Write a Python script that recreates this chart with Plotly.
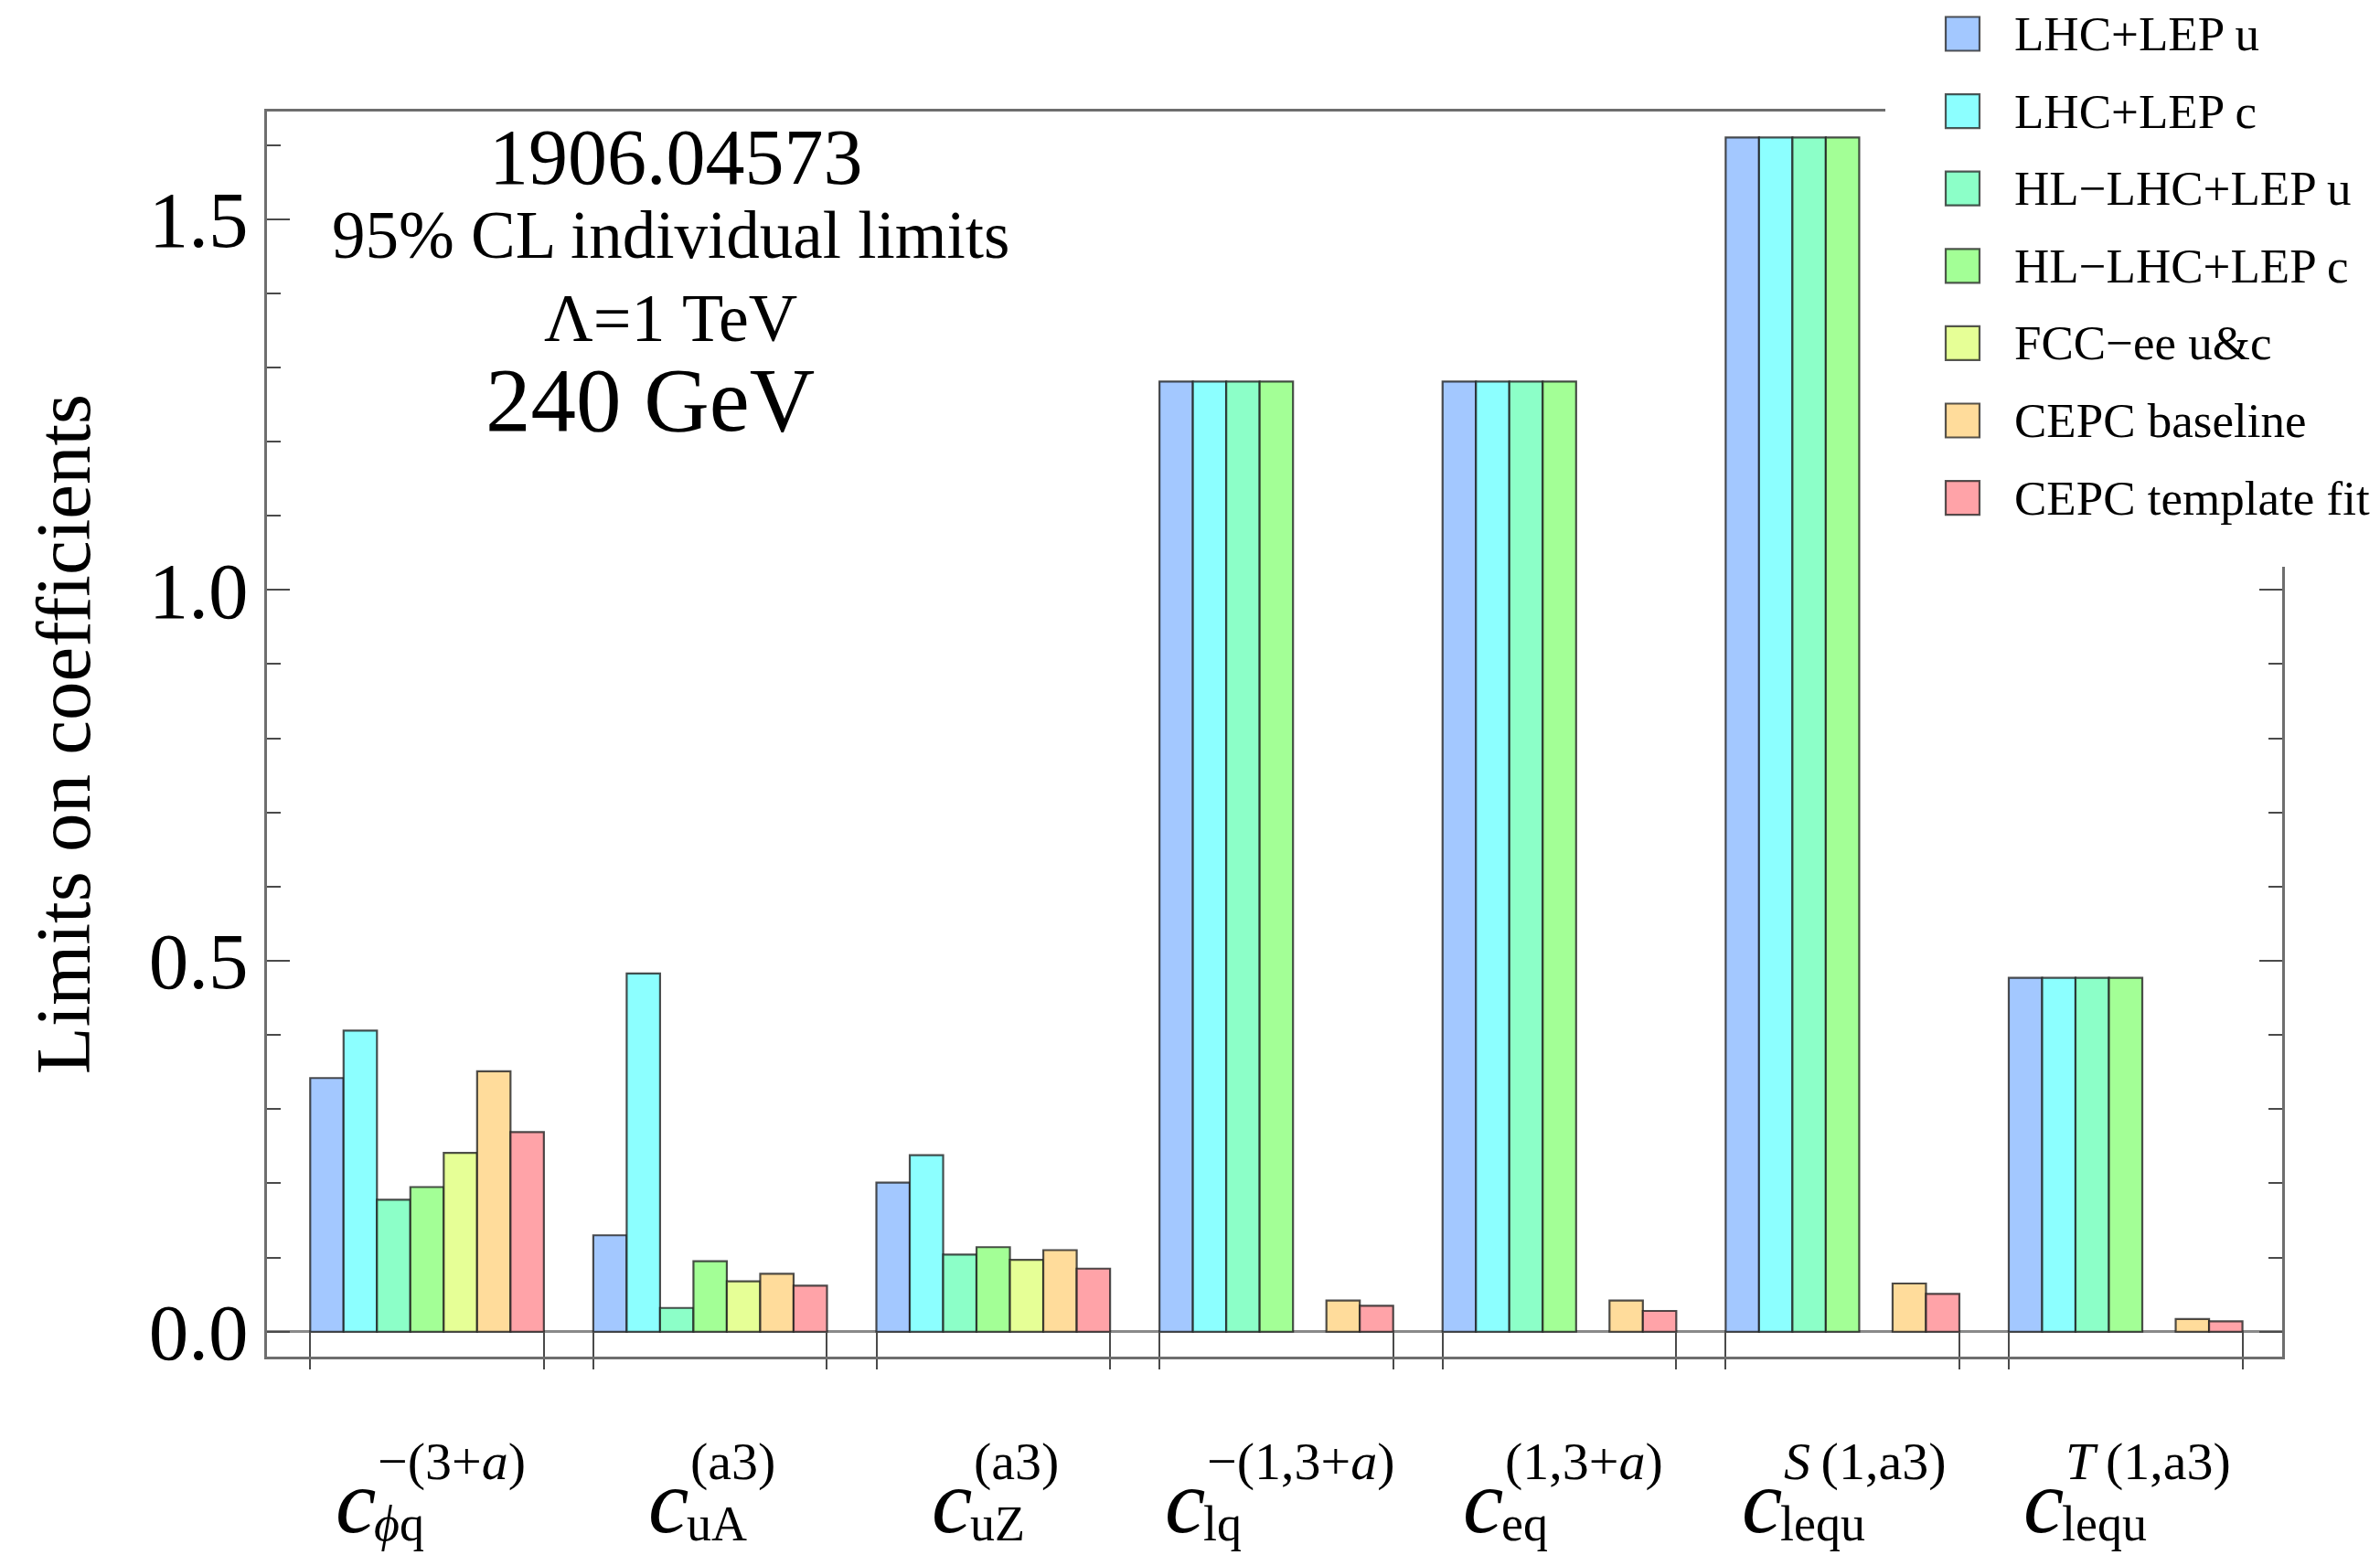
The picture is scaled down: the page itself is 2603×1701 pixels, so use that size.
import re
import plotly.graph_objects as go

# ---------------- data ----------------
categories = ["c_phi_q", "c_uA", "c_uZ", "c_lq", "c_eq", "c_lequ_S", "c_lequ_T"]
label_sup = ["\u2212(3+<i>a</i>)", "(a3)", "(a3)", "\u2212(1,3+<i>a</i>)",
             "(1,3+<i>a</i>)", "<i>S</i>\u2009(1,a3)", "<i>T</i>\u2009(1,a3)"]
label_sub = ["<i>\u03d5</i>q", "uA", "uZ", "lq", "eq", "lequ", "lequ"]

series_names = ["LHC+LEP u", "LHC+LEP c", "HL\u2212LHC+LEP u", "HL\u2212LHC+LEP c",
                "FCC\u2212ee u&c", "CEPC baseline", "CEPC template fit"]
lhc_lep_u = [0.342, 0.130, 0.201, 1.281, 1.281, 1.610, 0.477]
lhc_lep_c = [0.406, 0.483, 0.238, 1.281, 1.281, 1.610, 0.477]
hl_lhc_lep_u = [0.178, 0.032, 0.104, 1.281, 1.281, 1.610, 0.477]
hl_lhc_lep_c = [0.195, 0.095, 0.114, 1.281, 1.281, 1.610, 0.477]
fcc_ee = [0.241, 0.068, 0.097, None, None, None, None]
cepc_baseline = [0.351, 0.078, 0.110, 0.042, 0.042, 0.065, 0.017]
cepc_template = [0.269, 0.062, 0.085, 0.035, 0.028, 0.051, 0.014]
series_values = [lhc_lep_u, lhc_lep_c, hl_lhc_lep_u, hl_lhc_lep_c,
                 fcc_ee, cepc_baseline, cepc_template]

colors = ["#A3C8FF", "#8CFFFF", "#8CFFC8", "#A3FF96", "#E6FF96", "#FFDC9B", "#FFA3A8"]
y_ticks = [0.0, 0.5, 1.0, 1.5]

# ---------------- layout geometry ----------------
W, H = 2603, 1701
L, R, T, B = 292, 2496, 122, 1484     # plot area in pixels
PW, PH = R - L, B - T
FONT = "Liberation Serif, Times New Roman, serif"
LINE = "#6e6e6e"
TICK = "#4a4a4a"

bargap = 0.1745
half_group = (1 - bargap) / 2
x_pos = list(range(len(categories)))


def px_x(px):
    return (px - L) / PW


def px_y(py):
    return (B - py) / PH


EM = {"\u2212": .564, "(": .333, ")": .333, "+": .564, ",": .25, "1": .5, "3": .5,
      "a": .5, "S": .556, "T": .611, "u": .5, "A": .722, "Z": .611, "l": .278,
      "q": .5, "e": .444, "\u03d5": .5, "\u2009": .17}


def text_width(s, size):
    s = re.sub(r"<[^>]+>", "", s)
    return sum(EM.get(ch, .5) for ch in s) * size


fig = go.Figure()
for name, vals, col in zip(series_names, series_values, colors):
    fig.add_trace(go.Bar(
        x=x_pos, y=vals, name=name, showlegend=False,
        marker=dict(color=col, line=dict(color="rgba(30,30,30,0.78)", width=2.2)),
    ))

edges = []
for i in x_pos:
    edges += [i - half_group, i + half_group]

# invisible trace to keep the inner tick axis alive
fig.add_trace(go.Scatter(x=[x_pos[0]], y=[0], xaxis="x2", mode="markers",
                         marker=dict(opacity=0), showlegend=False, hoverinfo="skip"))

xrange = [-0.5654, 6.553]
yrange = [-0.0336, 1.645]

fig.update_layout(
    width=W, height=H,
    margin=dict(l=L, r=W - R, t=T, b=H - B, autoexpand=False),
    paper_bgcolor="white", plot_bgcolor="white",
    barmode="group", bargap=bargap, bargroupgap=0,
    font=dict(family=FONT, color="black"),
    xaxis=dict(range=xrange, tickmode="array", tickvals=edges, ticks="outside",
               ticklen=11, tickwidth=2, tickcolor=TICK, showticklabels=False,
               showline=True, linecolor=LINE, linewidth=3, mirror=True,
               showgrid=False, zeroline=False),
    xaxis2=dict(range=xrange, overlaying="x", side="bottom", anchor="y",
                tickmode="array", tickvals=edges, ticks="inside", ticklen=27,
                tickwidth=2, tickcolor=TICK, showticklabels=False, showline=False,
                showgrid=False, zeroline=False),
    yaxis=dict(range=yrange, tickmode="array", tickvals=y_ticks, tickformat=".1f",
               ticks="inside", ticklen=25, tickwidth=2, tickcolor=TICK,
               minor=dict(dtick=0.1, tick0=0, ticks="inside", ticklen=15,
                          tickwidth=2, tickcolor=TICK, showgrid=False),
               showline=True, linecolor=LINE, linewidth=3, mirror="ticks",
               showgrid=False, zeroline=True, zerolinecolor="#8a8a8a",
               zerolinewidth=3, tickfont=dict(size=87, family=FONT),
               ticklabelstandoff=0,
               title=dict(text="Limits on coefficients", standoff=37,
                          font=dict(size=85, family=FONT))),
)

annotations = []
# text block in upper left
for txt, cx, cy, size in [("1906.04573", 739, 172, 86),
                          ("95% CL individual limits", 733, 257, 73),
                          ("\u039b=1 TeV", 733, 348, 74),
                          ("240 GeV", 711, 437, 99)]:
    annotations.append(dict(text=txt, x=px_x(cx), y=px_y(cy), xref="paper", yref="paper",
                            xanchor="center", yanchor="middle", showarrow=False,
                            font=dict(size=size, family=FONT, color="black")))

# category labels: c with stacked super/subscripts
C_SIZE, SUP_SIZE, SUB_SIZE, C_W = 100, 58, 54, 50
for i, (sup, sub) in enumerate(zip(label_sup, label_sub)):
    mw = max(text_width(sup, SUP_SIZE), text_width(sub, SUB_SIZE))
    j = (C_W - mw) / 2
    annotations.append(dict(text="<i>c</i>", x=x_pos[i], xref="x", y=px_y(1700), yref="paper",
                            xanchor="right", yanchor="bottom", xshift=j + 2, showarrow=False,
                            font=dict(size=C_SIZE, family=FONT, color="black")))
    annotations.append(dict(text=sup, x=x_pos[i], xref="x", y=px_y(1598), yref="paper",
                            xanchor="left", yanchor="middle", xshift=j, showarrow=False,
                            font=dict(size=SUP_SIZE, family=FONT, color="black")))
    annotations.append(dict(text=sub, x=x_pos[i], xref="x", y=px_y(1667), yref="paper",
                            xanchor="left", yanchor="middle", xshift=j - 4, showarrow=False,
                            font=dict(size=SUB_SIZE, family=FONT, color="black")))

# legend (drawn manually on a white panel that hides the frame corner)
shapes = [dict(type="rect", xref="paper", yref="paper", x0=px_x(2062), x1=px_x(W + 10),
               y0=px_y(620), y1=px_y(-10), fillcolor="white", line=dict(width=0),
               layer="above")]
leg_y0, leg_dy = 37, 84.6
for k, (name, col) in enumerate(zip(series_names, colors)):
    cy = leg_y0 + k * leg_dy
    shapes.append(dict(type="rect", xref="paper", yref="paper",
                       x0=px_x(2128), x1=px_x(2165), y0=px_y(cy + 18.5), y1=px_y(cy - 18.5),
                       fillcolor=col, line=dict(color="rgba(30,30,30,0.75)", width=2.2),
                       layer="above"))
    annotations.append(dict(text=name, x=px_x(2201), y=px_y(cy), xref="paper", yref="paper",
                            xanchor="left", yanchor="middle", showarrow=False,
                            font=dict(size=53, family=FONT, color="black")))

fig.update_layout(annotations=annotations, shapes=shapes)

fig.write_html("out.html", config={"displayModeBar": False},
               post_script="document.body.style.margin='0';")
